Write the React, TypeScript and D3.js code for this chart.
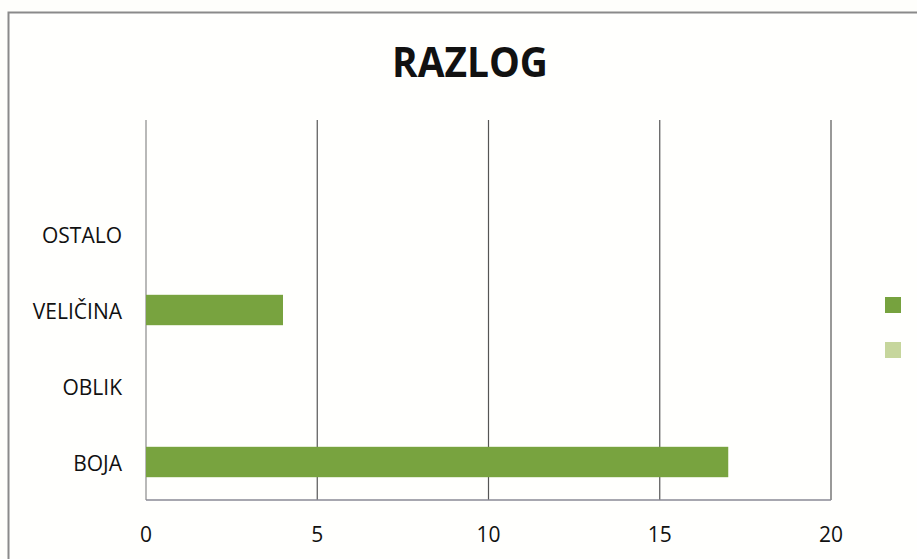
import React from 'react';
import * as d3 from 'd3';

// categories from bottom to top, the top slot is an empty category
const categories = ['BOJA', 'OBLIK', 'VELIČINA', 'OSTALO', ''];
const values = [17, 0, 4, 0, 0];
const xTicks = [0, 5, 10, 15, 20];
const legendColors = ['#76a23e', '#c6d69c'];

const width = 917;
const height = 559;
const marginLeft = 146;
const marginRight = 86;
const marginTop = 120;
const marginBottom = 59;

const font = "'Open Sans', sans-serif";

const App = () => {
  const x = d3.scaleLinear().domain([0, 20]).range([marginLeft, width - marginRight]);
  const y = d3.scaleBand()
    .domain(categories.map((c, i) => String(i)))
    .range([height - marginBottom, marginTop])
    .paddingInner(0.6)
    .paddingOuter(0.3);

  return (
    <svg width={width} height={height} style={{ position: 'absolute', left: 0, top: 0, background: '#fefefb' }}>
      {/* outer chart frame */}
      <rect x={8.5} y={12.5} width={width + 10} height={height + 10} fill="#fffffd" stroke="#8a8a8a" strokeWidth={2} />

      <text x={470} y={77} textAnchor="middle" fontFamily={font} fontWeight="bold" fontSize={42}
        textLength={156} lengthAdjust="spacingAndGlyphs" fill="#111">
        RAZLOG
      </text>

      {/* grid */}
      {xTicks.map(t => (
        <line key={t} x1={x(t)} x2={x(t)} y1={marginTop} y2={height - marginBottom}
          stroke={t === 0 ? '#8a8a8a' : '#555'} strokeWidth={1.2} />
      ))}
      <line x1={x(0)} x2={x(20)} y1={height - marginBottom} y2={height - marginBottom} stroke="#8a8a94" strokeWidth={1.5} />

      {/* bars */}
      {values.map((v, i) => v > 0 && (
        <rect key={i} x={x(0)} y={y(String(i))} width={x(v) - x(0)} height={y.bandwidth()} fill="#78a33f" />
      ))}

      {/* category labels */}
      {categories.map((c, i) => (
        <text key={i} x={x(0) - 24} y={(y(String(i)) as number) + y.bandwidth() / 2 + 2} dy="0.35em"
          textAnchor="end" fontFamily={font} fontSize={21} fill="#111">{c}</text>
      ))}

      {/* x tick labels */}
      {xTicks.map(t => (
        <text key={t} x={x(t)} y={535} dy="0.35em" textAnchor="middle" fontFamily={font} fontSize={21} fill="#111">{t}</text>
      ))}

      {/* legend squares (labels cut off in the original) */}
      {legendColors.map((c, i) => (
        <rect key={c} x={885} y={297 + i * 45} width={16} height={16} fill={c} />
      ))}
    </svg>
  );
};

export default App;
